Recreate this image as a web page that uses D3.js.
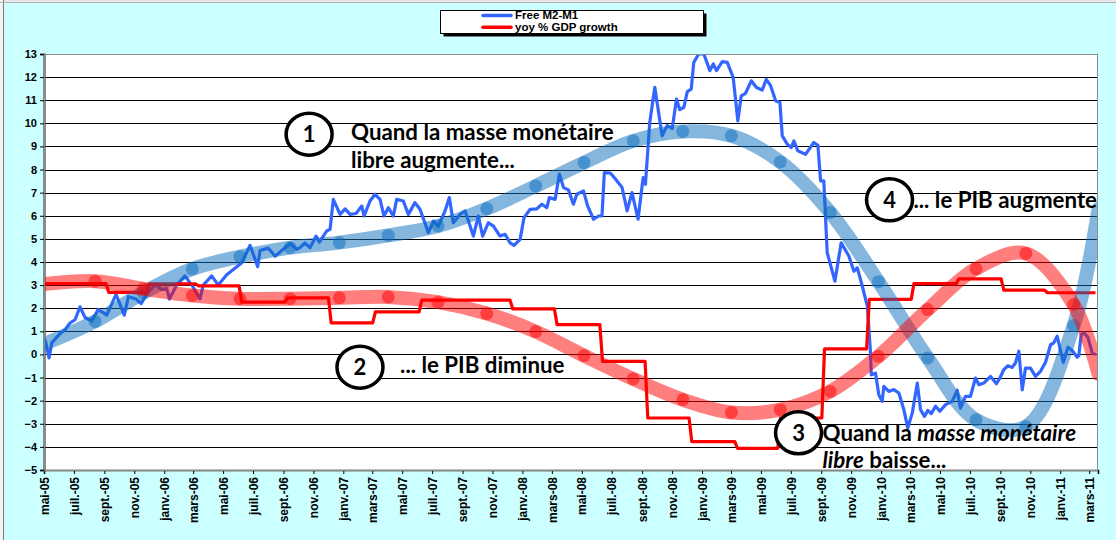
<!DOCTYPE html>
<html>
<head>
<meta charset="utf-8">
<script src="https://cdn.jsdelivr.net/npm/d3@7"></script>
<style>
  body { margin: 0; background: #ccffff; }
  svg { display: block; }
</style>
</head>
<body>
<svg id="chart"></svg>
<script>
// time is in decimal years, values in %
const m2Time = [
  2005.335, 2005.357, 2005.372, 2005.418, 2005.446, 2005.474, 2005.502, 2005.530, 2005.558, 2005.595,
  2005.632, 2005.679, 2005.731, 2005.777, 2005.800, 2005.843, 2005.871, 2005.902, 2005.949, 2005.986,
  2006.014, 2006.029, 2006.070, 2006.116, 2006.163, 2006.200, 2006.218, 2006.265, 2006.302, 2006.349,
  2006.386, 2006.433, 2006.479, 2006.522, 2006.535, 2006.581, 2006.619, 2006.665, 2006.703, 2006.740,
  2006.758, 2006.786, 2006.814, 2006.848, 2006.866, 2006.907, 2006.926, 2006.944, 2006.982, 2007.010,
  2007.038, 2007.071, 2007.103, 2007.116, 2007.149, 2007.177, 2007.205, 2007.227, 2007.251, 2007.279,
  2007.298, 2007.335, 2007.363, 2007.400, 2007.428, 2007.475, 2007.503, 2007.531, 2007.568, 2007.592,
  2007.614, 2007.652, 2007.680, 2007.726, 2007.754, 2007.778, 2007.810, 2007.838, 2007.875, 2007.903,
  2007.931, 2007.953, 2007.987, 2008.009, 2008.043, 2008.080, 2008.108, 2008.136, 2008.150, 2008.182,
  2008.206, 2008.229, 2008.256, 2008.284, 2008.303, 2008.340, 2008.363, 2008.396, 2008.424, 2008.443,
  2008.456, 2008.489, 2008.517, 2008.555, 2008.583, 2008.610, 2008.644, 2008.672, 2008.685, 2008.709,
  2008.737, 2008.778, 2008.806, 2008.834, 2008.858, 2008.876, 2008.899, 2008.918, 2008.940, 2008.954,
  2008.982, 2009.010, 2009.044, 2009.063, 2009.081, 2009.113, 2009.141, 2009.174, 2009.200, 2009.219,
  2009.243, 2009.275, 2009.304, 2009.336, 2009.359, 2009.383, 2009.411, 2009.435, 2009.448, 2009.476,
  2009.498, 2009.513, 2009.535, 2009.578, 2009.624, 2009.647, 2009.662, 2009.680, 2009.699, 2009.742,
  2009.777, 2009.820, 2009.848, 2009.867, 2009.895, 2009.923, 2009.941, 2009.945, 2009.969, 2009.987,
  2010.006, 2010.015, 2010.043, 2010.071, 2010.099, 2010.127, 2010.149, 2010.174, 2010.202, 2010.220,
  2010.242, 2010.261, 2010.280, 2010.304, 2010.328, 2010.360, 2010.397, 2010.425, 2010.443, 2010.471,
  2010.499, 2010.527, 2010.546, 2010.573, 2010.611, 2010.644, 2010.663, 2010.685, 2010.708, 2010.732,
  2010.750, 2010.769, 2010.788, 2010.806, 2010.834, 2010.862, 2010.890, 2010.918, 2010.946, 2010.964,
  2010.983, 2011.017, 2011.043, 2011.067, 2011.095, 2011.104, 2011.117, 2011.132, 2011.154, 2011.179,
  2011.197
];
const m2Values = [
  0.64, -0.15, 0.50, 0.90, 1.07, 1.36, 1.50, 2.06, 1.60, 1.45,
  1.95, 1.70, 2.60, 1.70, 2.50, 2.40, 2.20, 2.60, 3.03, 2.80,
  2.85, 2.40, 3.00, 3.40, 2.90, 2.40, 3.00, 3.40, 3.00, 3.45,
  3.68, 3.97, 4.72, 3.80, 4.50, 4.60, 4.25, 4.55, 4.80, 4.55,
  4.62, 4.83, 4.62, 5.12, 4.86, 5.34, 5.41, 6.71, 6.06, 6.30,
  6.06, 6.10, 6.42, 5.99, 6.64, 6.93, 6.71, 5.99, 6.35, 5.99,
  6.71, 6.64, 6.06, 6.57, 6.28, 5.27, 5.77, 5.55, 6.21, 6.79,
  5.70, 6.06, 6.21, 5.12, 5.99, 5.12, 5.70, 5.55, 5.12, 5.20,
  4.83, 4.72, 4.98, 5.92, 6.28, 6.30, 6.50, 6.35, 6.79, 6.71,
  7.80, 7.22, 7.12, 6.50, 6.93, 7.08, 6.43, 5.85, 5.99, 5.99,
  7.87, 7.85, 7.60, 7.22, 6.21, 7.00, 5.85, 7.65, 7.36, 10.04,
  11.56, 9.46, 9.90, 9.78, 11.05, 10.59, 10.69, 11.37, 11.48, 12.64,
  13.00, 13.00, 12.28, 12.57, 12.28, 12.67, 12.64, 11.99, 10.11, 11.19,
  11.30, 11.84, 11.55, 11.44, 11.90, 11.63, 10.98, 10.90, 9.46, 9.10,
  8.95, 9.24, 8.81, 8.66, 9.17, 9.05, 7.51, 7.51, 4.40, 3.17,
  4.83, 4.26, 3.60, 3.75, 2.95, 2.09, 0.06, -0.88, -0.81, -1.74,
  -2.03, -1.38, -1.60, -1.52, -1.67, -2.39, -3.19, -2.53, -1.24, -2.39,
  -2.68, -2.42, -2.56, -2.24, -2.46, -2.17, -2.03, -1.55, -2.32, -1.81,
  -1.81, -1.02, -1.31, -1.24, -0.95, -1.27, -1.02, -0.66, -0.49, -0.56,
  -0.37, 0.14, -1.53, -0.59, -0.59, -0.95, -0.73, -0.34, 0.42, 0.50,
  0.79, -0.34, 0.31, 0.17, -0.12, -0.05, 0.86, 0.93, 0.75, 0.06,
  -0.01
];

// quarterly GDP growth, each value holds from its start time until the next one
const gdpTime = [
  2005.329, 2005.690, 2005.917, 2006.191, 2006.433, 2006.688, 2006.932, 2007.179, 2007.438, 2007.691,
  2007.946, 2008.193, 2008.446, 2008.698, 2008.943, 2009.198, 2009.438, 2009.684, 2009.934, 2010.183,
  2010.434, 2010.685, 2010.928
];
const gdpValues = [
  3.07, 2.69, 3.05, 2.97, 2.26, 2.45, 1.37, 1.84, 2.35, 2.35,
  1.97, 1.29, -0.30, -2.75, -3.77, -4.06, -2.75, 0.24, 2.38, 3.06,
  3.27, 2.78, 2.67
];
const gdpEnd = 2011.197;

// the two hand drawn "waves"
const waveTime = [
  2005.329, 2005.614, 2005.883, 2006.157, 2006.423, 2006.703, 2006.978, 2007.251, 2007.529, 2007.801,
  2008.074, 2008.343, 2008.617, 2008.893, 2009.164, 2009.437, 2009.716, 2009.985, 2010.260, 2010.530,
  2010.808, 2011.075, 2011.214
];
const m2Wave = [
  0.45, 1.43, 2.67, 3.70, 4.23, 4.62, 4.84, 5.15, 5.56, 6.31,
  7.29, 8.30, 9.24, 9.65, 9.46, 8.33, 6.14, 3.15, -0.15, -2.83,
  -3.12, 1.25, 6.30
];
const gdpWave = [
  3.05, 3.17, 2.84, 2.55, 2.41, 2.41, 2.45, 2.49, 2.26, 1.77,
  0.99, -0.05, -1.06, -1.96, -2.51, -2.39, -1.60, -0.08, 1.94, 3.71,
  4.37, 2.16, -0.85
];

const yTicks = [-5, -4, -3, -2, -1, 0, 1, 2, 3, 4, 5, 6, 7, 8, 9, 10, 11, 12, 13];
const monthNames = ['janv.', 'févr.', 'mars', 'avr.', 'mai', 'juin', 'juil.', 'août', 'sept.', 'oct.', 'nov.', 'déc.'];
const legendLabels = ['Free M2-M1', 'yoy % GDP growth'];

const notes = [
  {n: '1', t: 2006.809, v: 9.53, tx: 2007.043, tv: 9.28,
   lines: [[['Quand la masse monétaire', 'normal']], [['libre augmente...', 'normal']]]},
  {n: '2', t: 2007.093, v: -0.55, tx: 2007.317, tv: -0.80,
   lines: [[['... le PIB diminue', 'normal']]]},
  {n: '3', t: 2009.539, v: -3.39, tx: 2009.673, tv: -3.74,
   lines: [[['Quand la ', 'normal'], ['masse monétaire', 'italic']], [['libre', 'italic'], [' baisse...', 'normal']]]},
  {n: '4', t: 2010.047, v: 6.69, tx: 2010.181, tv: 6.35,
   lines: [[['... le PIB augmente', 'normal']]]}
];

function decimalDate(t) {
  const y = Math.floor(t);
  const a = new Date(y, 0, 1), b = new Date(y + 1, 0, 1);
  return new Date(+a + (t - y) * (b - a));
}

class WaveChart {

  constructor(config) {
    this.config = {
      parent: config.parent,
      width: config.width || 1116,
      height: config.height || 540,
      margin: config.margin || {top: 54, right: 18, bottom: 70, left: 44}
    };
    this.init();
  }

  init() {
    let self = this;

    self.svg = d3.select(self.config.parent)
      .attr('width', self.config.width)
      .attr('height', self.config.height);

    self.inner_width = self.config.width - self.config.margin.left - self.config.margin.right;
    self.inner_height = self.config.height - self.config.margin.top - self.config.margin.bottom;

    // background + spreadsheet edge
    self.svg.append('rect')
      .attr('width', self.config.width).attr('height', self.config.height)
      .attr('fill', '#ccffff');
    self.svg.append('rect')
      .attr('width', self.config.width).attr('height', 2)
      .attr('fill', '#e8e8e8');
    self.svg.append('rect')
      .attr('width', 3).attr('height', self.config.height)
      .attr('fill', '#f4f4f4');
    self.svg.append('line')
      .attr('x1', 3.5).attr('x2', 3.5).attr('y1', 0).attr('y2', self.config.height)
      .attr('stroke', '#7a7a7a');
    self.svg.append('line')
      .attr('x1', 0).attr('x2', self.config.width).attr('y1', 2.5).attr('y2', 2.5)
      .attr('stroke', '#b0b0b0');

    self.chart = self.svg.append('g')
      .attr('transform', `translate(${self.config.margin.left}, ${self.config.margin.top})`);

    self.xscale = d3.scaleTime()
      .domain([new Date(2005, 4, 1), new Date(2011, 2, 19)])
      .range([0, self.inner_width]);

    self.yscale = d3.scaleLinear()
      .domain([-5, 13])
      .range([self.inner_height, 0]);

    self.chart.append('rect')
      .attr('width', self.inner_width).attr('height', self.inner_height)
      .attr('fill', '#fff');

    self.chart.append('defs').append('clipPath').attr('id', 'plotclip')
      .append('rect').attr('width', self.inner_width).attr('height', self.inner_height);

    self.xaxis = d3.axisBottom(self.xscale)
      .ticks(d3.timeMonth.every(2))
      .tickSize(4)
      .tickFormat(d => monthNames[d.getMonth()] + '-' + String(d.getFullYear()).slice(2));

    self.yaxis = d3.axisLeft(self.yscale)
      .tickValues(yTicks)
      .tickSize(4)
      .tickPadding(3)
      .tickFormat(d3.format('d'));

    self.grid_group = self.chart.append('g');
    self.xaxis_group = self.chart.append('g')
      .attr('transform', `translate(0, ${self.inner_height})`);
    self.yaxis_group = self.chart.append('g');
    self.plot = self.chart.append('g').attr('clip-path', 'url(#plotclip)');
    self.notes_group = self.chart.append('g');
    self.legend_group = self.svg.append('g');
  }

  render() {
    let self = this;
    const x = t => self.xscale(decimalDate(t));
    const y = v => self.yscale(v);

    self.grid_group.selectAll('line')
      .data(yTicks.filter(d => d > -5 && d < 13))
      .join('line')
      .attr('x1', 0).attr('x2', self.inner_width)
      .attr('y1', d => Math.round(y(d)) + 0.5).attr('y2', d => Math.round(y(d)) + 0.5)
      .attr('stroke', '#000').attr('stroke-width', 1);

    self.chart.append('rect')
      .attr('x', 0.5).attr('y', 0.5)
      .attr('width', self.inner_width - 1).attr('height', self.inner_height)
      .attr('fill', 'none').attr('stroke', '#8a8a8a');

    self.xaxis_group.call(self.xaxis);
    self.xaxis_group.selectAll('text')
      .attr('transform', 'rotate(-90)')
      .attr('text-anchor', 'end')
      .attr('x', -7).attr('y', 0).attr('dy', '0.35em');
    self.yaxis_group.call(self.yaxis);

    [self.xaxis_group, self.yaxis_group].forEach(g => {
      g.selectAll('text')
        .style('font-family', '"Liberation Sans", Arial, sans-serif')
        .style('font-weight', 'bold')
        .attr('fill', '#000');
      g.selectAll('.tick line').attr('stroke', '#000');
      g.select('.domain').attr('stroke', '#000').attr('stroke-width', 1.5);
    });
    self.xaxis_group.selectAll('text').style('font-size', '12px');
    self.yaxis_group.selectAll('text').style('font-size', '11px');
    self.yaxis_group.select('.domain').attr('stroke', '#444').attr('stroke-width', 2.2);

    // thin series
    const line = d3.line().x(d => x(d[0])).y(d => y(d[1]));

    const m2Points = m2Time.map((t, i) => [t, m2Values[i]]);
    self.plot.append('path')
      .attr('d', line(m2Points))
      .attr('fill', 'none').attr('stroke', '#3366ff')
      .attr('stroke-width', 3.2).attr('stroke-linejoin', 'round');

    const gdpPoints = [];
    gdpTime.forEach((t, i) => {
      const stop = i < gdpTime.length - 1 ? gdpTime[i + 1] - 0.015 : gdpEnd;
      gdpPoints.push([t, gdpValues[i]], [stop, gdpValues[i]]);
    });
    self.plot.append('path')
      .attr('d', line(gdpPoints))
      .attr('fill', 'none').attr('stroke', '#ff0000')
      .attr('stroke-width', 3.2).attr('stroke-linejoin', 'round');

    // translucent waves with dots
    const smooth = d3.line().curve(d3.curveCatmullRom.alpha(0.5))
      .x(d => x(d[0])).y(d => y(d[1]));

    [[m2Wave, '#0a6ebe'], [gdpWave, '#ff0000']].forEach(([vals, col]) => {
      const pts = waveTime.map((t, i) => [t, vals[i]]);
      self.plot.append('path')
        .attr('d', smooth(pts))
        .attr('fill', 'none').attr('stroke', col)
        .attr('stroke-opacity', 0.5).attr('stroke-width', 14)
        .attr('stroke-linecap', 'round');
      self.plot.append('g').selectAll('circle')
        .data(pts.slice(1, -1))
        .join('circle')
        .attr('cx', d => x(d[0])).attr('cy', d => y(d[1]))
        .attr('r', 6.5)
        .attr('fill', col).attr('fill-opacity', 0.5);
    });

    // annotations
    const note = self.notes_group.selectAll('g')
      .data(notes)
      .join('g');

    note.append('ellipse')
      .attr('cx', d => x(d.t)).attr('cy', d => y(d.v))
      .attr('rx', 23).attr('ry', 21)
      .attr('fill', '#fff').attr('stroke', '#000').attr('stroke-width', 3.5);

    note.append('text')
      .attr('x', d => x(d.t)).attr('y', d => y(d.v))
      .attr('dy', '0.36em')
      .attr('text-anchor', 'middle')
      .style('font-family', 'Lato, "Open Sans", sans-serif')
      .style('font-size', '22px').style('font-weight', 'bold')
      .text(d => d.n);

    note.each(function(d) {
      const txt = d3.select(this).append('text')
        .attr('x', x(d.tx)).attr('y', y(d.tv))
        .style('font-family', 'Lato, "Open Sans", sans-serif')
        .style('font-size', '22.3px').style('font-weight', 'bold')
        .attr('fill', '#000');
      d.lines.forEach((parts, li) => {
        parts.forEach((p, pi) => {
          const ts = txt.append('tspan').text(p[0]).style('font-style', p[1]);
          if (pi === 0) ts.attr('x', x(d.tx)).attr('dy', li === 0 ? 0 : 27.6);
        });
      });
    });

    // legend
    const lx = 440.5, ly = 10.5;
    self.legend_group.append('rect')
      .attr('x', lx + 3).attr('y', ly + 3).attr('width', 263).attr('height', 23)
      .attr('fill', '#000');
    self.legend_group.append('rect')
      .attr('x', lx).attr('y', ly).attr('width', 263).attr('height', 23)
      .attr('fill', '#fff').attr('stroke', '#000');

    const item = self.legend_group.selectAll('g.item')
      .data(legendLabels)
      .join('g').attr('class', 'item')
      .attr('transform', (d, i) => `translate(0, ${ly + 5 + i * 11.7})`);
    item.append('line')
      .attr('x1', 483).attr('x2', 511)
      .attr('stroke', (d, i) => i === 0 ? '#3366ff' : '#ff0000')
      .attr('stroke-width', 3.5).attr('stroke-linecap', 'round');
    item.append('text')
      .attr('x', 515).attr('dy', '0.34em')
      .style('font-family', '"Liberation Sans", Arial, sans-serif')
      .style('font-size', '11.5px').style('font-weight', 'bold')
      .text(d => d);
  }
}

let chart = new WaveChart({parent: '#chart', width: 1116, height: 540});
chart.render();
</script>
</body>
</html>
